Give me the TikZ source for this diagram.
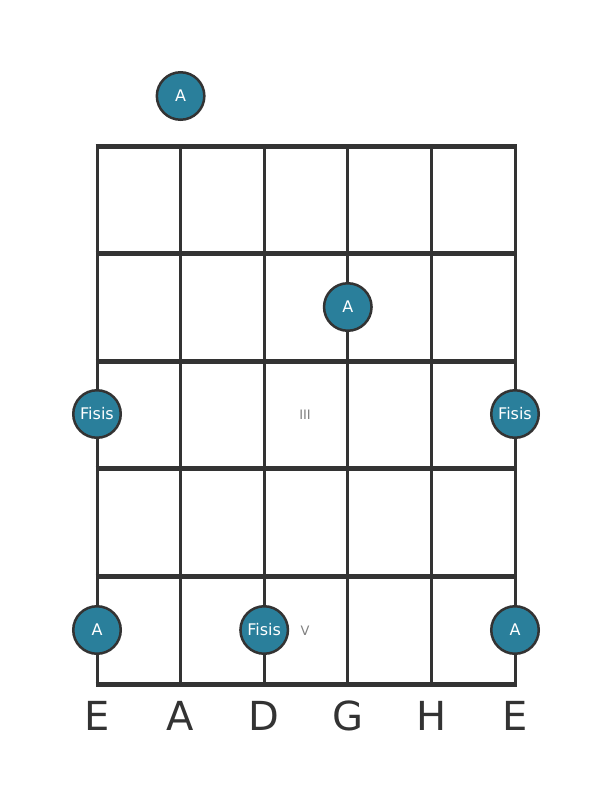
\documentclass[tikz,border=0pt]{standalone}
\usepackage{fontspec}
\setmainfont{DejaVu Sans}
\definecolor{notefill}{HTML}{2A7F9B}
\definecolor{gridline}{HTML}{333333}

\begin{document}
\begin{tikzpicture} [x=1pt,y=-1pt,
			string/.style={gridline,line width=3pt},
			fret/.style={gridline,line width=5pt},
			note/.style={circle,draw=gridline,line width=2.5pt,fill=notefill,minimum size=47.5pt,inner sep=0pt,text=white,font=\fontsize{16}{16}\selectfont},
			fretnum/.style={text=gray,font=\fontsize{13}{13}\selectfont},
			tuning/.style={text=gridline,font=\fontsize{40}{40}\selectfont}
			]
		\useasboundingbox (0,0) rectangle (611,801);
		%\draw[step=50, color=gray] (0,0) grid (611,801);
		\foreach \s in {0,...,5}
			\draw [string] (97+83.6*\s,146) -- (97+83.6*\s,684);
		\foreach \f in {0,...,5}
			\draw [fret] (95.5,146+107.6*\f) -- (516.5,146+107.6*\f);

		\node [fretnum] (f3) at (305,415) {III};
		\node [fretnum] (f5) at (305,631) {V};

		\node [note] (a0) at (180.6,96) {A};
		\node [note] (a1) at (347.8,307) {A};
		\node [note] (fs1) at (97,414) {Fisis};
		\node [note] (fs2) at (515,414) {Fisis};
		\node [note] (a2) at (97,630) {A};
		\node [note] (fs3) at (264.2,630) {Fisis};
		\node [note] (a3) at (515,630) {A};

		\node [tuning] (s1) at (97,716) {E};
		\node [tuning] (s2) at (180.6,716) {A};
		\node [tuning] (s3) at (264.2,716) {D};
		\node [tuning] (s4) at (347.8,716) {G};
		\node [tuning] (s5) at (431.4,716) {H};
		\node [tuning] (s6) at (515,716) {E};
		\end{tikzpicture}
\end{document}
